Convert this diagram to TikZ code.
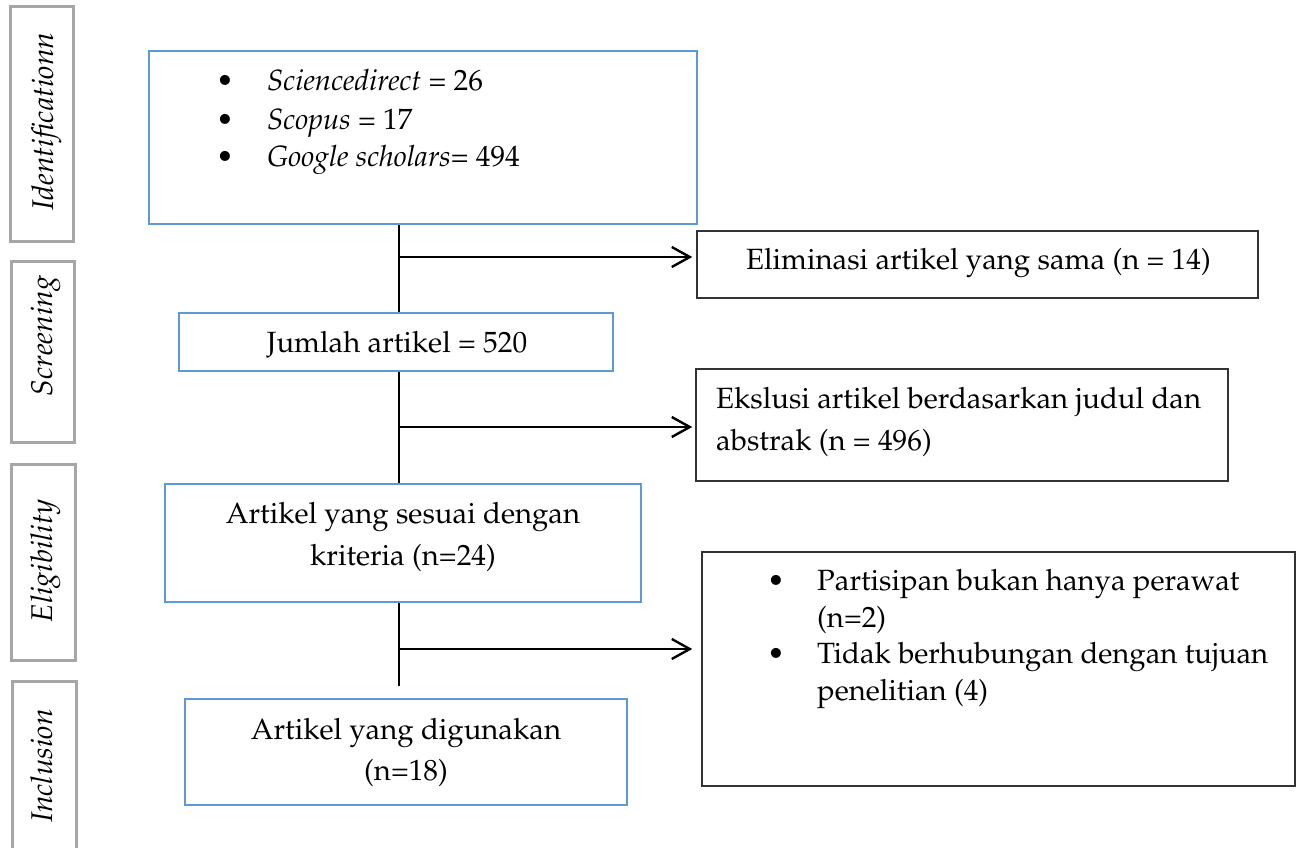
\documentclass[tikz,border=0pt]{standalone}
\usepackage[T1]{fontenc}
\usepackage{mathpazo}
\usetikzlibrary{arrows.meta}
\definecolor{boxblue}{HTML}{5B9BD5}
\definecolor{labgray}{HTML}{A6A6A6}
\definecolor{boxdark}{HTML}{333333}
\tikzset{
  bluebox/.style={draw=boxblue, line width=2.8pt, rectangle, inner sep=0pt},
  darkbox/.style={draw=boxdark, line width=1.5pt, rectangle, inner sep=0pt},
  labbox/.style={draw=labgray, line width=3pt, rectangle, inner sep=0pt},
  labtext/.style={rotate=90, anchor=base, inner sep=0pt, font=\fontsize{30}{36}\selectfont\itshape},
  txt/.style={font=\fontsize{29.3}{35}\selectfont, inner sep=0pt, anchor=base},
  txtl/.style={txt, anchor=base west},
  flow/.style={line width=1.4pt},
  arr/.style={line width=2.4pt, -{Straight Barb[length=18pt,width=20pt]}},
}
\begin{document}
\begin{tikzpicture}[x=1pt,y=-1pt]
\useasboundingbox (0,0) rectangle (1298,848);
% left stage labels
\node[labbox, minimum width=63, minimum height=234] (lid) at (41.5,124) {};
\node[labtext] (tid) at (53,121.5) {Identificationn};
\node[labbox, minimum width=63, minimum height=181] (lsc) at (42.5,351.5) {};
\node[labtext] (tsc) at (52,336) {Screening};
\node[labbox, minimum width=64, minimum height=196] (lel) at (43,562) {};
\node[labtext] (tel) at (52,561) {Eligibility};
\node[labbox, minimum width=64, minimum height=200] (lin) at (44,781) {};
\node[labtext] (tin) at (52,766) {Inclusion};
% main boxes
\node[bluebox, minimum width=548, minimum height=173] (src) at (423,137.5) {};
\node[txt] (b1) at (225,91) {\textbullet};
\node[txt] (b2) at (225,129) {\textbullet};
\node[txt] (b3) at (225,167) {\textbullet};
\node[txtl] (s1) at (267,91) {\textit{Sciencedirect} = 26};
\node[txtl] (s2) at (267,129) {\textit{Scopus} = 17};
\node[txtl] (s3) at (267,167) {\textit{Google scholars}= 494};

\node[bluebox, minimum width=434, minimum height=58] (jum) at (396,342) {};
\node[txt] (tjum) at (397,352) {Jumlah artikel = 520};

\node[darkbox, minimum width=561, minimum height=67] (elim) at (977.5,264.5) {};
\node[txt] (telim) at (978.5,269) {Eliminasi artikel yang sama (n = 14)};

\node[darkbox, minimum width=532, minimum height=112] (eks) at (962,425) {};
\node[txtl] (teks1) at (716,408) {Ekslusi artikel berdasarkan judul dan};
\node[txtl] (teks2) at (716,450) {abstrak (n = 496)};

\node[bluebox, minimum width=476, minimum height=118] (ses) at (403,543) {};
\node[txt] (tses1) at (403,523) {Artikel yang sesuai dengan};
\node[txt] (tses2) at (403,565) {kriteria (n=24)};

\node[darkbox, minimum width=593, minimum height=234] (exc) at (998.5,669) {};
\node[txt] (c1) at (776,590) {\textbullet};
\node[txt] (c2) at (776,663) {\textbullet};
\node[txtl] (tc1) at (817,590) {Partisipan bukan hanya perawat};
\node[txtl] (tc2) at (817,627) {(n=2)};
\node[txtl] (tc3) at (817,663) {Tidak berhubungan dengan tujuan};
\node[txtl] (tc4) at (817,700) {penelitian (4)};

\node[bluebox, minimum width=442, minimum height=106] (use) at (406,752) {};
\node[txt] (tuse1) at (406,739) {Artikel yang digunakan};
\node[txt] (tuse2) at (406,780) {(n=18)};

% connectors
\coordinate (v) at (399,0);
\coordinate (a1) at (399,257);
\coordinate (a2) at (399,427);
\coordinate (a3) at (399,649);
\coordinate (vend) at (399,686);
\draw[flow] (src.south -| v) -- (jum.north -| v);
\draw[flow] (jum.south -| v) -- (ses.north -| v);
\draw[flow] (ses.south -| v) -- (vend);
\draw[arr, shorten >=4pt] (a1) -- (elim.west |- a1);
\draw[arr, shorten >=3pt] (a2) -- (eks.west |- a2);
\draw[arr, shorten >=9pt] (a3) -- (exc.west |- a3);
\end{tikzpicture}
\end{document}
